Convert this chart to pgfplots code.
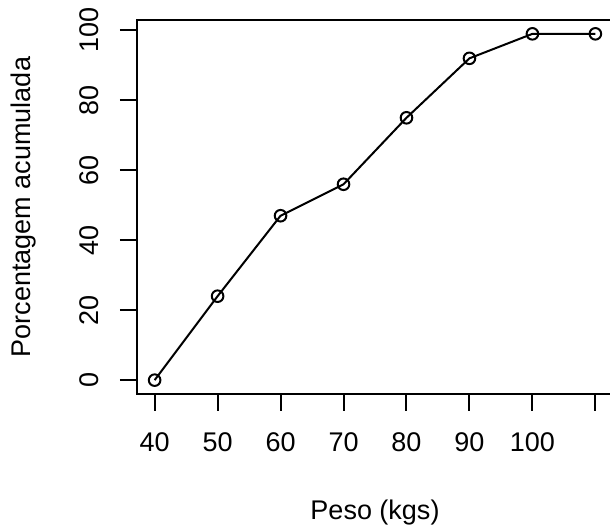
\documentclass[border=0pt]{standalone}
\usepackage{pgfplots}
\pgfplotsset{compat=1.18}
\usepackage{fontspec}
\setmainfont{Liberation Sans}
\newcommand{\rfont}{\fontsize{13.5}{16}\selectfont}
\begin{document}
\begin{tikzpicture}
\begin{axis}[
  at={(68.5pt,67pt)}, anchor=south west,
  scale only axis, width=238pt, height=187pt,
  xmin=37.2, xmax=112.8, ymin=-3.96, ymax=102.96,
  axis line style={line width=1pt},
  tick align=outside, xtick pos=bottom, ytick pos=left,
  major tick length=8.5pt,
  every tick/.style={black, line width=1pt},
  xtick={40,50,60,70,80,90,100,110},
  xticklabels={40,50,60,70,80,90,100,{}},
  ytick={0,20,40,60,80,100},
  yticklabels={0,20,40,60,80,100},
  tick label style={font=\rfont},
  xticklabel style={anchor=north, yshift=-7.5pt},
  yticklabel style={rotate=90, anchor=south},
  yticklabel shift=7pt,
  label style={font=\rfont},
  xlabel={Peso (kgs)},
  ylabel={Porcentagem acumulada},
  xlabel style={at={(axis description cs:0.5,0)}, anchor=base, yshift=-63pt},
  ylabel style={at={(axis description cs:0,0.5)}, anchor=base, yshift=53pt},
  clip=false,
]
\addplot[black, line width=1pt, mark=o, mark size=2.9pt, mark options={fill=white, line width=1pt}]
  coordinates {(40,0)(50,24)(60,47)(70,56)(80,75)(90,92)(100,99)(110,99)};
\end{axis}
\pgfresetboundingbox
\path[use as bounding box] (0,0) rectangle (305pt,264pt);
\end{tikzpicture}
\end{document}
